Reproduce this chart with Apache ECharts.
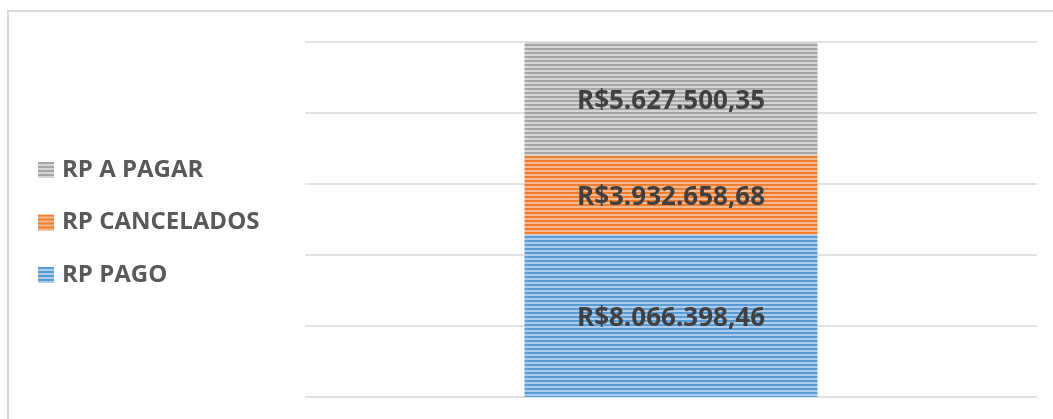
<!DOCTYPE html>
<html>
<head>
<meta charset="utf-8">
<script src="https://cdn.jsdelivr.net/npm/echarts@6/dist/echarts.min.js"></script>
<style>
    html, body { margin: 0; padding: 0; background: #fff; }
    #chartWrapper { width: 1053px; height: 419px; }
</style>
</head>
<body>
<div id="chartWrapper"></div>
<script>
let categories = ['RP'];
let seriesNames = ['RP PAGO', 'RP CANCELADOS', 'RP A PAGAR'];
let rpPago = [8066398.46];
let rpCancelados = [3932658.68];
let rpAPagar = [5627500.35];

// listras horizontais como no Excel
function stripe(dark, light) {
    let c = document.createElement('canvas');
    c.width = 4;
    c.height = 4;
    let ctx = c.getContext('2d');
    ctx.fillStyle = light;
    ctx.fillRect(0, 0, 4, 4);
    ctx.fillStyle = dark;
    ctx.fillRect(0, 0, 4, 2);
    return { image: c, repeat: 'repeat' };
}

function brl(v) {
    let parts = v.toFixed(2).split('.');
    let inteiro = parts[0].replace(/\B(?=(\d{3})+(?!\d))/g, '.');
    return 'R$' + inteiro + ',' + parts[1];
}

let total = rpPago[0] + rpCancelados[0] + rpAPagar[0];
let colors = [
    stripe('#5b9bd5', '#aecdec'),
    stripe('#ed7d31', '#f6b98f'),
    stripe('#a5a5a5', '#d4d4d4')
];
let dataList = [rpPago, rpCancelados, rpAPagar];

let myChart = echarts.init(document.getElementById('chartWrapper'));

let seriesData = [];
for (let i = 0; i < seriesNames.length; i++) {
    seriesData.push({
        name: seriesNames[i],
        type: 'bar',
        stack: 'total',
        barWidth: 293,
        itemStyle: { color: colors[i] },
        label: {
            show: true,
            position: 'inside',
            offset: [0, 3],
            fontFamily: 'Open Sans',
            fontWeight: 'bold',
            fontSize: 26,
            color: '#404040',
            formatter: function (p) { return brl(p.value); }
        },
        data: dataList[i]
    });
}

let option = {
    animation: false,
    graphic: [{
        type: 'rect',
        shape: { x: 8, y: 11, width: 1100, height: 500 },
        style: { fill: 'none', stroke: '#d9d9d9', lineWidth: 2 },
        silent: true
    }],
    legend: {
        orient: 'vertical',
        left: 38,
        top: 158,
        padding: 0,
        itemGap: 28.5,
        itemWidth: 16,
        itemHeight: 16,
        icon: 'rect',
        data: ['RP A PAGAR', 'RP CANCELADOS', 'RP PAGO'],
        textStyle: {
            fontFamily: 'Open Sans',
            fontWeight: 'bold',
            fontSize: 24,
            color: '#595959',
            padding: [0, 0, 0, 3]
        }
    },
    grid: {
        left: 305,
        right: 16,
        top: 42,
        bottom: 22
    },
    xAxis: {
        type: 'category',
        data: categories,
        axisLine: { show: false },
        axisTick: { show: false },
        axisLabel: { show: false }
    },
    yAxis: {
        type: 'value',
        min: 0,
        max: total,
        interval: total / 5,
        axisLabel: { show: false },
        splitLine: { lineStyle: { color: '#d9d9d9', width: 1.5 } }
    },
    series: seriesData
};

myChart.setOption(option);
</script>
</body>
</html>
